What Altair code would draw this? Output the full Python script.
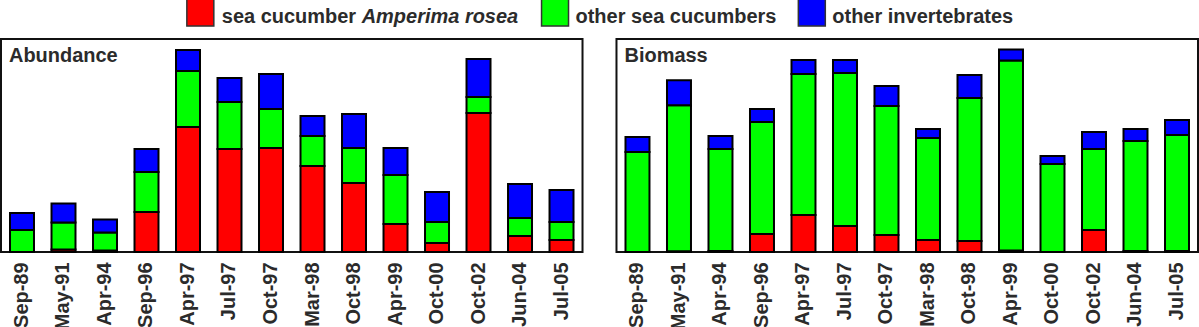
import altair as alt
import pandas as pd

# ---- data (arbitrary units) ----
dates = ["Sep-89", "May-91", "Apr-94", "Sep-96", "Apr-97", "Jul-97", "Oct-97",
         "Mar-98", "Oct-98", "Apr-99", "Oct-00", "Oct-02", "Jun-04", "Jul-05"]
series = ["sea cucumber Amperima rosea", "other sea cucumbers", "other invertebrates"]
colors = ["#ff0000", "#00ff00", "#0000ff"]

abund_rosea = [0, 2.5, 1.5, 40, 125, 103, 104, 86, 69, 28, 9, 139, 16, 12]
abund_other_cuc = [22, 27, 18, 40, 56, 47, 39, 30, 35, 49, 21, 16, 18, 18]
abund_invert = [17, 19, 13, 23, 21, 24, 35, 20, 34, 27, 30, 38, 34, 32]

bio_rosea = [0, 0.8, 1, 18, 37, 26, 17, 12, 11, 1.5, 0, 22, 1, 1]
bio_other_cuc = [100, 146, 102, 112, 141, 153, 129, 102, 143, 190, 88, 81, 110, 116]
bio_invert = [15, 25, 13, 13, 14, 13, 20, 9, 23, 11, 8, 17, 12, 15]

FONT = "Liberation Sans"
TXT = "#2b2b2b"


def long_df(r, g, b):
    rows = []
    for i, d in enumerate(dates):
        for k, vals in enumerate([r, g, b]):
            rows.append({"date": d, "group": series[k], "ord": k, "value": vals[i]})
    return pd.DataFrame(rows)


def panel(name, r, g, b):
    df = long_df(r, g, b)
    bars = alt.Chart(df).mark_bar(stroke="#000000", strokeWidth=2).encode(
        x=alt.X("date:N", sort=dates, title=None,
                scale=alt.Scale(paddingInner=0.422, paddingOuter=0.217),
                axis=alt.Axis(labelAngle=-90, labelFont=FONT, labelFontSize=20,
                              labelFontWeight="bold", labelColor=TXT, ticks=False,
                              domain=False, grid=False, labelPadding=10)),
        y=alt.Y("value:Q", stack="zero",
                scale=alt.Scale(domain=[0, 213], nice=False), axis=None),
        color=alt.Color("group:N", scale=alt.Scale(domain=series, range=colors), legend=None),
        order=alt.Order("ord:Q", sort="ascending"),
    )
    label = alt.Chart(pd.DataFrame({"t": [name]})).mark_text(
        align="left", baseline="alphabetic", font=FONT, fontSize=20,
        fontWeight="bold", color=TXT
    ).encode(text="t:N", x=alt.value(8), y=alt.value(23))
    return alt.layer(bars, label).properties(
        width=582, height=213,
        view=alt.ViewBackground(stroke="#111111", strokeWidth=2),
    )


one = pd.DataFrame({"a": [0]})


def swatch(x0, color):
    return alt.Chart(one).mark_rect(fill=color, stroke="#333333", strokeWidth=1.5).encode(
        x=alt.value(x0), x2=alt.value(x0 + 27), y=alt.value(1), y2=alt.value(28))


def ltext(x0, txt, italic=False):
    return alt.Chart(one).mark_text(
        text=txt, align="left", baseline="alphabetic", font=FONT, fontSize=20,
        fontWeight="bold", fontStyle="italic" if italic else "normal", color=TXT
    ).encode(x=alt.value(x0), y=alt.value(25))


legend = alt.layer(
    swatch(186, colors[0]), ltext(221, "sea cucumber"), ltext(361, "Amperima rosea", True),
    swatch(541, colors[1]), ltext(575, "other sea cucumbers"),
    swatch(798, colors[2]), ltext(832, "other invertebrates"),
).properties(width=1196, height=28)

chart = alt.vconcat(
    legend,
    alt.hconcat(
        panel("Abundance", abund_rosea, abund_other_cuc, abund_invert),
        panel("Biomass", bio_rosea, bio_other_cuc, bio_invert),
        spacing=32,
    ),
    spacing=10,
).properties(
    padding={"left": 0, "top": -3, "right": 0, "bottom": 0},
    background="white",
).configure_view(stroke="transparent")

chart.save("out.html", embed_options={"renderer": "svg", "actions": False})
